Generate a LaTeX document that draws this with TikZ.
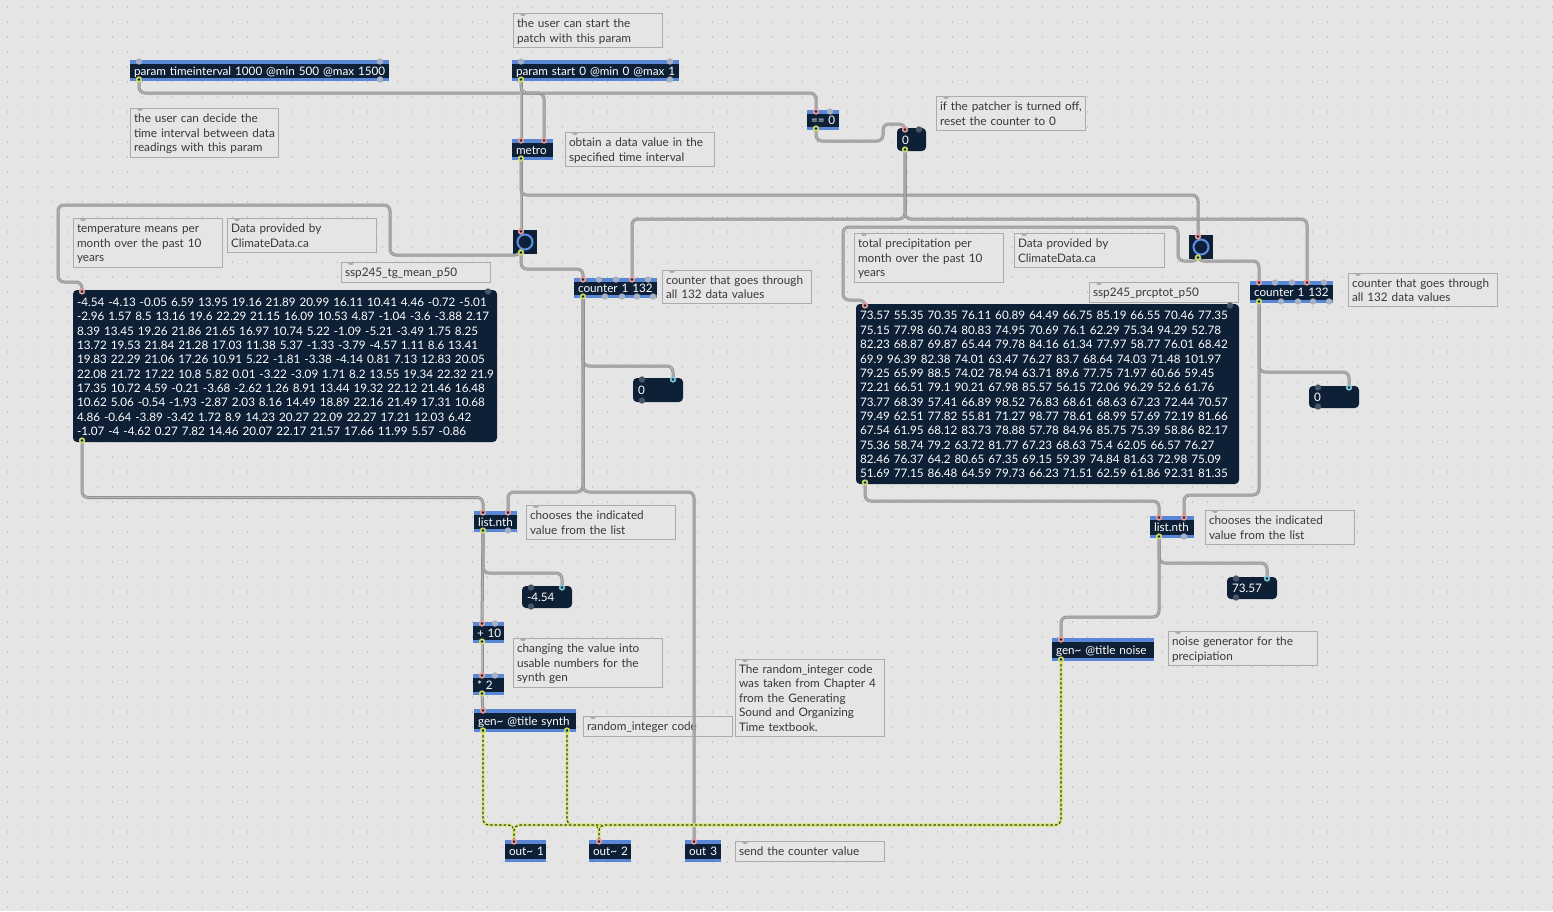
\documentclass[tikz,border=0pt]{standalone}
\usepackage{fontspec}
\setmainfont{Lato}
\usetikzlibrary{calc}
\definecolor{bg}{HTML}{E5E5E5}
\definecolor{griddot}{HTML}{C4C4C4}
\definecolor{objfill}{HTML}{0E2036}
\definecolor{objblue}{HTML}{5A86D6}
\definecolor{cmtborder}{HTML}{ABABAB}
\definecolor{cmttext}{HTML}{383838}
\definecolor{cordout}{HTML}{8E8E8E}
\definecolor{cordin}{HTML}{B4B4B4}
\definecolor{sigyel}{HTML}{D6EA72}
\definecolor{sigdark}{HTML}{3A3F35}
\definecolor{ringblue}{HTML}{5C8FE6}
\definecolor{inpink}{HTML}{E49A96}
\definecolor{outyel}{HTML}{C9D96A}
\definecolor{portgray}{HTML}{A7B1C4}
\definecolor{numcyan}{HTML}{7FC6D6}
\definecolor{darkport}{HTML}{4A5668}
\newcommand\objfont{\fontsize{11.7}{14.4}\selectfont}
\newcommand\cmtfont{\fontsize{11.75}{14.5}\selectfont}
\newcommand\msgfont{\fontsize{11.7}{14.35}\selectfont}
\newcommand\lns[1]{\raisebox{-2pt}[\height][\depth]{\begin{tabular}{@{}l@{}}#1\end{tabular}}}
\newcommand\portin[1]{\fill[inpink] (#1) circle (3.2pt); \fill[objfill] (#1) circle (1.4pt);}
\newcommand\portout[1]{\fill[outyel] (#1) circle (3.2pt); \fill[objfill] (#1) circle (1.4pt);}
\newcommand\portnum[1]{\fill[numcyan] (#1) circle (3.2pt); \fill[objfill] (#1) circle (1.4pt);}
\newcommand\portoff[1]{\fill[portgray] (#1) circle (3.2pt);}
\newcommand\portdim[1]{\fill[darkport] (#1) circle (3.2pt);}
\tikzset{
  box/.style={anchor=north west, inner xsep=4pt, inner ysep=0pt, outer sep=0pt, align=left},
  obj/.code 2 args={\pgfmathsetmacro\boxw{#1-8}\tikzset{box, text width=\boxw pt, minimum height=#2pt,
      fill=objfill, text=white, font=\objfont,
      path picture={\fill[objblue] (path picture bounding box.north west) rectangle ([yshift=-3.5pt]path picture bounding box.north east);
                    \fill[objblue] (path picture bounding box.south west) rectangle ([yshift=3.5pt]path picture bounding box.south east);}}},
  cmt/.code 2 args={\pgfmathsetmacro\boxw{#1-8}\tikzset{box, text width=\boxw pt, minimum height=#2pt,
      draw=cmtborder, line width=0.9pt, fill=bg, text=cmttext, font=\cmtfont,
      path picture={\fill[cmtborder] ([xshift=10pt]path picture bounding box.north west) circle (3.2pt);}}},
  msg/.code 2 args={\pgfmathsetmacro\boxw{#1-8}\tikzset{box, text width=\boxw pt, minimum height=#2pt,
      fill=objfill, rounded corners=4pt, text=white, font=\msgfont}},
  numbox/.code 2 args={\pgfmathsetmacro\boxw{#1-10}\tikzset{box, inner xsep=5pt, text width=\boxw pt, minimum height=#2pt,
      fill=objfill, rounded corners=4pt, text=white, font=\objfont}},
  btn/.style={anchor=north west, minimum width=24pt, minimum height=24pt, inner sep=0pt, outer sep=0pt, fill=objfill,
      path picture={\draw[ringblue, line width=2pt] (path picture bounding box.center) circle (7.5pt);}},
  cord/.style={draw=cordout, line width=3pt, rounded corners=6pt, postaction={draw=cordin, line width=1.3pt}},
  sig/.style={draw=sigyel, line width=3pt, rounded corners=6pt, postaction={draw=sigdark, line width=1.2pt, dash pattern=on 2.5pt off 2pt}}
}
\begin{document}
\begin{tikzpicture}[x=1pt,y=-1pt]
\useasboundingbox (0,0) rectangle (1553,911);
\fill[bg] (0,0) rectangle (1553,911);
\foreach \r in {0,...,60} {\draw[griddot, line width=1.3pt, dash pattern=on 1.3pt off 13.7pt] (7,{7+15*\r}) -- (1553,{7+15*\r});}

% comments
\node[cmt={149}{34}] (c1) at (513,13) {\lns{the user can start the\\patch with this param}};
\node[cmt={148}{49}] (c2) at (130,108) {\lns{the user can decide the\\time interval between data\\readings with this param}};
\node[cmt={149}{34}] (c3) at (565,132) {\lns{obtain a data value in the\\specified time interval}};
\node[cmt={149}{34}] (c4) at (936,96) {\lns{if the patcher is turned off,\\reset the counter to 0}};
\node[cmt={149}{49}] (c5) at (73,218) {\lns{temperature means per\\month over the past 10\\years}};
\node[cmt={149}{34}] (c6) at (227,218) {\lns{Data provided by\\ClimateData.ca}};
\node[cmt={149}{20}] (c7) at (341,262) {\lns{ssp245\_tg\_mean\_p50}};
\node[cmt={149}{33}] (c8) at (662,270) {\lns{counter that goes through\\all 132 data values}};
\node[cmt={149}{34}] (c9) at (526,505) {\lns{chooses the indicated\\value from the list}};
\node[cmt={149}{49}] (c10) at (513,638) {\lns{changing the value into\\usable numbers for the\\synth gen}};
\node[cmt={149}{20}] (c11) at (583,716) {\lns{random\_integer code}};
\node[cmt={149}{77}] (c12) at (735,659) {\lns{The random\_integer code\\was taken from Chapter 4\\from the Generating\\Sound and Organizing\\Time textbook.}};
\node[cmt={149}{20}] (c13) at (735,841) {\lns{send the counter value}};
\node[cmt={149}{49}] (c14) at (854,233) {\lns{total precipitation per\\month over the past 10\\years}};
\node[cmt={150}{34}] (c15) at (1014,233) {\lns{Data provided by\\ClimateData.ca}};
\node[cmt={149}{20}] (c16) at (1089,282) {\lns{ssp245\_prcptot\_p50}};
\node[cmt={149}{33}] (c17) at (1348,273) {\lns{counter that goes through\\all 132 data values}};
\node[cmt={149}{34}] (c18) at (1205,510) {\lns{chooses the indicated\\value from the list}};
\node[cmt={149}{34}] (c19) at (1168,631) {\lns{noise generator for the\\precipiation}};

% objects
\node[obj={259}{21}] (pti) at (130,60) {\lns{param timeinterval 1000 @min 500 @max 1500}};
\node[obj={167}{21}] (pst) at (512,60) {\lns{param start 0 @min 0 @max 1}};
\node[obj={41}{21}] (metro) at (512,139) {\lns{metro}};
\node[obj={32}{20}] (eq) at (807,110) {\lns{== 0}};
\node[numbox={29}{23}] (nz) at (897,128) {\lns{0}};
\node[btn] (btnL) at (513,230) {};
\node[btn] (btnR) at (1189,235) {};
\node[obj={83}{20}] (cntL) at (574,278) {\lns{counter 1 132}};
\node[obj={83}{22}] (cntR) at (1250,281) {\lns{counter 1 132}};
\node[msg={424}{152}] (msgL) at (73,290) {\lns{-4.54 -4.13 -0.05 6.59 13.95 19.16 21.89 20.99 16.11 10.41 4.46 -0.72 -5.01\\
-2.96 1.57 8.5 13.16 19.6 22.29 21.15 16.09 10.53 4.87 -1.04 -3.6 -3.88 2.17\\
8.39 13.45 19.26 21.86 21.65 16.97 10.74 5.22 -1.09 -5.21 -3.49 1.75 8.25\\
13.72 19.53 21.84 21.28 17.03 11.38 5.37 -1.33 -3.79 -4.57 1.11 8.6 13.41\\
19.83 22.29 21.06 17.26 10.91 5.22 -1.81 -3.38 -4.14 0.81 7.13 12.83 20.05\\
22.08 21.72 17.22 10.8 5.82 0.01 -3.22 -3.09 1.71 8.2 13.55 19.34 22.32 21.9\\
17.35 10.72 4.59 -0.21 -3.68 -2.62 1.26 8.91 13.44 19.32 22.12 21.46 16.48\\
10.62 5.06 -0.54 -1.93 -2.87 2.03 8.16 14.49 18.89 22.16 21.49 17.31 10.68\\
4.86 -0.64 -3.89 -3.42 1.72 8.9 14.23 20.27 22.09 22.27 17.21 12.03 6.42\\
-1.07 -4 -4.62 0.27 7.82 14.46 20.07 22.17 21.57 17.66 11.99 5.57 -0.86}};
\node[msg={383}{180}] (msgR) at (856,304) {\lns{73.57 55.35 70.35 76.11 60.89 64.49 66.75 85.19 66.55 70.46 77.35\\
75.15 77.98 60.74 80.83 74.95 70.69 76.1 62.29 75.34 94.29 52.78\\
82.23 68.87 69.87 65.44 79.78 84.16 61.34 77.97 58.77 76.01 68.42\\
69.9 96.39 82.38 74.01 63.47 76.27 83.7 68.64 74.03 71.48 101.97\\
79.25 65.99 88.5 74.02 78.94 63.71 89.6 77.75 71.97 60.66 59.45\\
72.21 66.51 79.1 90.21 67.98 85.57 56.15 72.06 96.29 52.6 61.76\\
73.77 68.39 57.41 66.89 98.52 76.83 68.61 68.63 67.23 72.44 70.57\\
79.49 62.51 77.82 55.81 71.27 98.77 78.61 68.99 57.69 72.19 81.66\\
67.54 61.95 68.12 83.73 78.88 57.78 84.96 85.75 75.39 58.86 82.17\\
75.36 58.74 79.2 63.72 81.77 67.23 68.63 75.4 62.05 66.57 76.27\\
82.46 76.37 64.2 80.65 67.35 69.15 59.39 74.84 81.63 72.98 75.09\\
51.69 77.15 86.48 64.59 79.73 66.23 71.51 62.59 61.86 92.31 81.35}};
\node[numbox={50}{24}] (nL) at (633,378) {\lns{0}};
\node[numbox={50}{22}] (nR) at (1309,386) {\lns{0}};
\node[obj={43}{21}] (nthL) at (474,511) {\lns{list.nth}};
\node[obj={44}{22}] (nthR) at (1150,516) {\lns{list.nth}};
\node[numbox={50}{22}] (nT) at (522,586) {\lns{-4.54}};
\node[numbox={50}{22}] (nP) at (1227,577) {\lns{73.57}};
\node[obj={31}{21}] (add) at (473,622) {\lns{+ 10}};
\node[obj={31}{21}] (mul) at (473,674) {\lns{* 2}};
\node[obj={102}{23}] (genS) at (474,709) {\lns{gen\textasciitilde{} @title synth}};
\node[obj={102}{23}] (genN) at (1052,638) {\lns{gen\textasciitilde{} @title noise}};
\node[obj={41}{22}] (out1) at (505,840) {\lns{out\textasciitilde{} 1}};
\node[obj={42}{22}] (out2) at (589,840) {\lns{out\textasciitilde{} 2}};
\node[obj={36}{22}] (out3) at (685,840) {\lns{out 3}};

% port coordinates
\coordinate (ptiO) at ($(pti.south west)+(9,-1.5)$);
\coordinate (pstO) at ($(pst.south west)+(9,-1.5)$);
\coordinate (metI1) at ($(metro.north west)+(9,1.5)$);
\coordinate (metI2) at ($(metro.north east)+(-9,1.5)$);
\coordinate (metO) at ($(metro.south west)+(9,-1.5)$);
\coordinate (eqI) at ($(eq.north west)+(9,1.5)$);
\coordinate (eqO) at ($(eq.south west)+(9,-1.5)$);
\coordinate (nzI) at ($(nz.north west)+(8,1.5)$);
\coordinate (nzO) at ($(nz.south west)+(8,-1.5)$);
\coordinate (bLI) at ($(btnL.north west)+(8,1.5)$);
\coordinate (bLO) at ($(btnL.south west)+(8,-1.5)$);
\coordinate (bRI) at ($(btnR.north west)+(9,1.5)$);
\coordinate (bRO) at ($(btnR.south west)+(9,-1.5)$);
\coordinate (cLI1) at ($(cntL.north west)+(9,1.5)$);
\coordinate (cLI4) at ($(cntL.north west)+(58,1.5)$);
\coordinate (cLO) at ($(cntL.south west)+(9,-1.5)$);
\coordinate (cRI1) at ($(cntR.north west)+(9,1.5)$);
\coordinate (cRI4) at ($(cntR.north west)+(57,1.5)$);
\coordinate (cRO) at ($(cntR.south west)+(9,-1.5)$);
\coordinate (mLI) at ($(msgL.north west)+(9,1.5)$);
\coordinate (mLO) at ($(msgL.south west)+(9,-1.5)$);
\coordinate (mRI) at ($(msgR.north west)+(9,1.5)$);
\coordinate (mRO) at ($(msgR.south west)+(9,-1.5)$);
\coordinate (nLI) at ($(nL.north east)+(-10,1.5)$);
\coordinate (nRI) at ($(nR.north east)+(-10,1.5)$);
\coordinate (nTI) at ($(nT.north east)+(-10,1.5)$);
\coordinate (nPI) at ($(nP.north east)+(-10,1.5)$);
\coordinate (tLI1) at ($(nthL.north west)+(9,1.5)$);
\coordinate (tLI2) at ($(nthL.north east)+(-9,1.5)$);
\coordinate (tLO) at ($(nthL.south west)+(9,-1.5)$);
\coordinate (tRI1) at ($(nthR.north west)+(9,1.5)$);
\coordinate (tRI2) at ($(nthR.north east)+(-10,1.5)$);
\coordinate (tRO) at ($(nthR.south west)+(9,-1.5)$);
\coordinate (aI) at ($(add.north west)+(9,1.5)$);
\coordinate (aO) at ($(add.south west)+(9,-1.5)$);
\coordinate (muI) at ($(mul.north west)+(9,1.5)$);
\coordinate (muO) at ($(mul.south west)+(9,-1.5)$);
\coordinate (gSI) at ($(genS.north west)+(9,1.5)$);
\coordinate (gSO1) at ($(genS.south west)+(9,-1.5)$);
\coordinate (gSO2) at ($(genS.south east)+(-9,-1.5)$);
\coordinate (gNI) at ($(genN.north west)+(9,1.5)$);
\coordinate (gNO) at ($(genN.south west)+(9,-1.5)$);
\coordinate (o1I) at ($(out1.north west)+(9,1.5)$);
\coordinate (o2I) at ($(out2.north west)+(10,1.5)$);
\coordinate (o3I) at ($(out3.north west)+(9,1.5)$);

% patch cords
\draw[cord] (ptiO) -- ++(0,13.5) -| (metI2);
\draw[cord] (pstO) -- (metI1);
\draw[cord] (pstO) -- ++(0,13.5) -| (eqI);
\draw[cord] (metO) -- (bLI);
\draw[cord] (metO) -- ++(0,36.5) -| (bRI);
\draw[cord] (eqO) -- ++(0,12.5) -| ++(67,-17) -| (nzI);
\draw[cord] (nzO) -- ++(0,69.5) -| (cLI4);
\draw[cord] (nzO) -- ++(0,69.5) -| (cRI4);
\draw[cord] (bLO) -- ++(0,16.5) -| (cLI1);
\draw[cord] (bLO) -- ++(0,2.5) -| ++(-131,-50) -| ++(-332,77) -| (mLI);
\draw[cord] (mLO) -- ++(0,57) -| (tLI1);
\draw[cord] (cLO) -- ++(0,69.5) -| (nLI);
\draw[cord] (cLO) -- ++(0,195.5) -| (tLI2);
\draw[cord] (cLO) -- ++(0,195.5) -| (o3I);
\draw[cord] (tLO) -- (aI);
\draw[cord] (tLO) -- ++(0,42.5) -| (nTI);
\draw[cord] (aO) -- (muI);
\draw[cord] (muO) -- (gSI);
\draw[cord] (bRO) -- ++(0,3.5) -| (cRI1);
\draw[cord] (bRO) -- ++(0,3.5) -| ++(-20,-34) -| ++(-335,73) -| (mRI);
\draw[cord] (mRO) -- ++(0,18.5) -| (tRI1);
\draw[cord] (cRO) -- ++(0,70.5) -| (nRI);
\draw[cord] (cRO) -- ++(0,193.5) -| (tRI2);
\draw[cord] (tRO) -- ++(0,26.5) -| (nPI);
\draw[cord] (tRO) -- ++(0,80.5) -| (gNI);
% signal cords
\draw[sig] (gSO1) -- ++(0,94.5) -| (o1I);
\draw[sig] (gSO2) -- ++(0,94.5) -| (o2I);
\draw[sig] (gNO) -- ++(0,165.5) -| (o1I);
\draw[sig] (gNO) -- ++(0,165.5) -| (o2I);

% ports
\foreach \p in {ptiO,pstO,metO,eqO,nzO,bLO,bRO,cLO,cRO,mLO,mRO,tLO,tRO,aO,muO,gSO1,gSO2,gNO} {\portout{\p}}
\foreach \p in {metI1,metI2,eqI,nzI,bLI,bRI,cLI1,cLI4,cRI1,cRI4,mLI,mRI,tLI1,tLI2,tRI1,tRI2,aI,muI,gSI,gNI,o1I,o2I,o3I} {\portin{\p}}
\foreach \p in {nLI,nRI,nTI,nPI} {\portnum{\p}}
\portoff{$(pti.north west)+(9,1.5)$}
\portoff{$(pti.north east)+(-9,1.5)$}
\portoff{$(pti.south east)+(-9,-1.5)$}
\portoff{$(pst.north west)+(9,1.5)$}
\portoff{$(pst.north east)+(-9,1.5)$}
\portoff{$(pst.south east)+(-9,-1.5)$}
\portoff{$(eq.north east)+(-9,1.5)$}
\portoff{$(add.north east)+(-9,1.5)$}
\portoff{$(mul.north east)+(-9,1.5)$}
\portoff{$(nthL.south east)+(-9,-1.5)$}
\portoff{$(nthR.south east)+(-10,-1.5)$}
\foreach \d in {25,42,74} {\portoff{$(cntL.north west)+(\d,1.5)$} \portoff{$(cntR.north west)+(\d,1.5)$}}
\foreach \d in {31,48,63,79} {\portoff{$(cntL.south west)+(\d,-1.5)$} \portoff{$(cntR.south west)+(\d,-1.5)$}}
\portdim{$(nz.north east)+(-7,1.5)$}
\foreach \n in {nL,nR,nT,nP} {\portdim{$(\n.north west)+(9,1.5)$} \portdim{$(\n.south west)+(9,-1.5)$}}
\portdim{$(msgL.north east)+(-9,1.5)$}
\portdim{$(msgR.north east)+(-9,1.5)$}
\end{tikzpicture}
\end{document}
